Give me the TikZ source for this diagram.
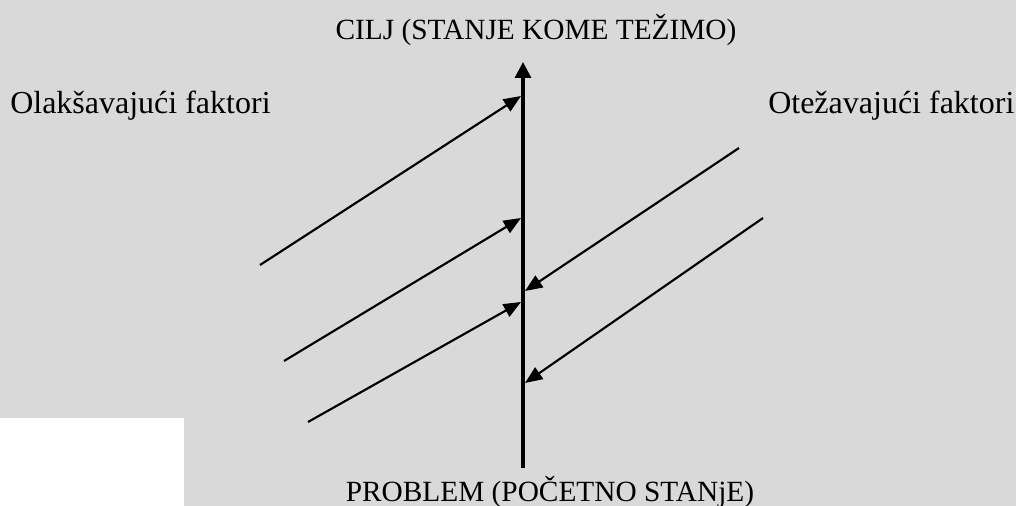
\documentclass[tikz,border=0pt]{standalone}
\usepackage{fontspec}
\setmainfont{Liberation Serif}
\usetikzlibrary{arrows.meta}
\definecolor{bggray}{HTML}{D9D9D9}
\begin{document}
\begin{tikzpicture}[x=0.75pt,y=-0.75pt,
	lbl/.style={inner sep=0pt,font=\fontsize{24}{28}\selectfont},
	caps/.style={inner sep=0pt,font=\fontsize{22}{26}\selectfont},
	axis/.style={line width=2.4pt,-{Triangle[length=12pt,width=12pt]}},
	force/.style={line width=1.6pt,-{Triangle[length=13pt,width=10.5pt]}}]
					\fill[bggray] (0,0) rectangle (1016,506);
					\fill[white] (0,418) rectangle (184,506);
					\useasboundingbox (0,0) rectangle (1016,506);
					\node[caps,anchor=base] (cilj) at (536,40) {CILJ (STANJE KOME TEŽIMO)};
					\node[caps,anchor=base] (problem) at (550,501) {PROBLEM (POČETNO STANjE)};
					\node[lbl,anchor=base west] (olaks) at (10,114) {Olakšavajući faktori};
					\node[lbl,anchor=base west] (otez) at (768,114) {Otežavajući faktori};
					\coordinate (dno) at (523,468);
					\coordinate (vrh) at (523,62);
					\coordinate (l1) at (260,265);
					\coordinate (l2) at (284,361);
					\coordinate (l3) at (308,422);
					\coordinate (r1) at (739,148);
					\coordinate (r2) at (763,218);
					\coordinate (t1) at (521,96);
					\coordinate (t2) at (521,218);
					\coordinate (t3) at (521,302);
					\coordinate (t4) at (525,291);
					\coordinate (t5) at (525,383);
					\draw[axis] (dno) -- (vrh);
					\draw[force] (l1) -- (t1);
					\draw[force] (l2) -- (t2);
					\draw[force] (l3) -- (t3);
					\draw[force] (r1) -- (t4);
					\draw[force] (r2) -- (t5);
				\end{tikzpicture}
\end{document}
